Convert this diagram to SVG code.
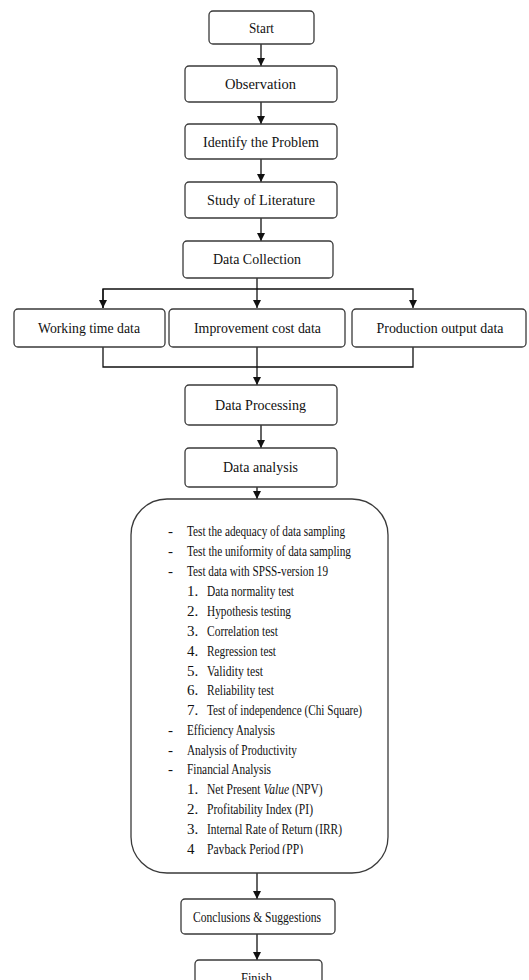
<svg xmlns="http://www.w3.org/2000/svg" width="529" height="980" viewBox="0 0 529 980">
<style>
.box{fill:#fff;stroke:#3a3a3a;stroke-width:1.3}
.lbl{font-family:"Liberation Serif",serif;font-size:15px;fill:#111;text-anchor:middle}
.it{font-family:"Liberation Serif",serif;font-size:15px;fill:#111}
.ln{fill:none;stroke:#111;stroke-width:1.3}
</style>
<defs>
<marker id="ah" viewBox="0 0 8 8" refX="8" refY="4" markerWidth="8" markerHeight="8" markerUnits="userSpaceOnUse" orient="auto">
<path d="M0,0 L8,4 L0,8 z" fill="#111"/>
</marker>
<clipPath id="bigclip"><rect x="130" y="499" width="260" height="355"/></clipPath>
</defs>
<rect width="529" height="980" fill="#fff"/>
<g id="connectors">
<line class="ln" x1="261" y1="44" x2="261" y2="66" marker-end="url(#ah)"/>
<line class="ln" x1="261" y1="102" x2="261" y2="124" marker-end="url(#ah)"/>
<line class="ln" x1="261" y1="159" x2="261" y2="182" marker-end="url(#ah)"/>
<line class="ln" x1="261" y1="218" x2="261" y2="241" marker-end="url(#ah)"/>
<line class="ln" x1="257" y1="278" x2="257" y2="289"/>
<polyline class="ln" points="103,308 103,289 413,289 413,308" marker-end="url(#ah)"/>
<line class="ln" x1="103" y1="289" x2="103" y2="308" marker-end="url(#ah)"/>
<line class="ln" x1="257" y1="289" x2="257" y2="308" marker-end="url(#ah)"/>
<polyline class="ln" points="103,347 103,367 413,367 413,347"/>
<line class="ln" x1="257" y1="347" x2="257" y2="385" marker-end="url(#ah)"/>
<line class="ln" x1="261" y1="425" x2="261" y2="448" marker-end="url(#ah)"/>
<line class="ln" x1="257" y1="487" x2="257" y2="499" marker-end="url(#ah)"/>
<line class="ln" x1="257" y1="873" x2="257" y2="899" marker-end="url(#ah)"/>
<line class="ln" x1="257" y1="934" x2="257" y2="960" marker-end="url(#ah)"/>
</g>
<g id="start"><rect class="box" x="209" y="11" width="105" height="33" rx="4"/><text class="lbl" x="261.5" y="33" textLength="25" lengthAdjust="spacingAndGlyphs">Start</text></g>
<g id="observation"><rect class="box" x="185" y="66" width="152" height="36" rx="4"/><text class="lbl" x="260.5" y="89" textLength="71" lengthAdjust="spacingAndGlyphs">Observation</text></g>
<g id="identify"><rect class="box" x="185" y="124" width="152" height="35" rx="4"/><text class="lbl" x="261" y="147" textLength="116" lengthAdjust="spacingAndGlyphs">Identify the Problem</text></g>
<g id="literature"><rect class="box" x="185" y="182" width="152" height="36" rx="4"/><text class="lbl" x="261" y="205" textLength="108" lengthAdjust="spacingAndGlyphs">Study of Literature</text></g>
<g id="collection"><rect class="box" x="183" y="241" width="150" height="37" rx="4"/><text class="lbl" x="257" y="264" textLength="88" lengthAdjust="spacingAndGlyphs">Data Collection</text></g>
<g id="working"><rect class="box" x="14" y="309" width="151" height="38" rx="4"/><text class="lbl" x="89" y="333" textLength="102" lengthAdjust="spacingAndGlyphs">Working time data</text></g>
<g id="improvement"><rect class="box" x="169" y="309" width="176" height="38" rx="4"/><text class="lbl" x="257.5" y="333" textLength="127" lengthAdjust="spacingAndGlyphs">Improvement cost data</text></g>
<g id="production"><rect class="box" x="352" y="309" width="174" height="38" rx="4"/><text class="lbl" x="440" y="333" textLength="127" lengthAdjust="spacingAndGlyphs">Production output data</text></g>
<g id="processing"><rect class="box" x="185" y="385" width="152" height="40" rx="4"/><text class="lbl" x="260.5" y="410" textLength="91" lengthAdjust="spacingAndGlyphs">Data Processing</text></g>
<g id="analysis"><rect class="box" x="185" y="448" width="152" height="39" rx="4"/><text class="lbl" x="260.5" y="472" textLength="75" lengthAdjust="spacingAndGlyphs">Data analysis</text></g>
<g id="methods">
<rect class="box" x="131" y="499" width="257" height="374" rx="36"/>
<g clip-path="url(#bigclip)">
<text class="it" x="168" y="536">-</text><text class="it" x="187" y="536" textLength="158" lengthAdjust="spacingAndGlyphs">Test the adequacy of data sampling</text>
<text class="it" x="168" y="556">-</text><text class="it" x="187" y="556" textLength="164" lengthAdjust="spacingAndGlyphs">Test the uniformity of data sampling</text>
<text class="it" x="168" y="576">-</text><text class="it" x="187" y="576" textLength="141" lengthAdjust="spacingAndGlyphs">Test data with SPSS-version 19</text>
<text class="it" x="187" y="596">1.</text><text class="it" x="207" y="596" textLength="87" lengthAdjust="spacingAndGlyphs">Data normality test</text>
<text class="it" x="187" y="616">2.</text><text class="it" x="207" y="616" textLength="84" lengthAdjust="spacingAndGlyphs">Hypothesis testing</text>
<text class="it" x="187" y="636">3.</text><text class="it" x="207" y="636" textLength="71" lengthAdjust="spacingAndGlyphs">Correlation test</text>
<text class="it" x="187" y="656">4.</text><text class="it" x="207" y="656" textLength="69" lengthAdjust="spacingAndGlyphs">Regression test</text>
<text class="it" x="187" y="676">5.</text><text class="it" x="207" y="676" textLength="56" lengthAdjust="spacingAndGlyphs">Validity test</text>
<text class="it" x="187" y="695">6.</text><text class="it" x="207" y="695" textLength="67" lengthAdjust="spacingAndGlyphs">Reliability test</text>
<text class="it" x="187" y="715">7.</text><text class="it" x="207" y="715" textLength="155" lengthAdjust="spacingAndGlyphs">Test of independence (Chi Square)</text>
<text class="it" x="168" y="735">-</text><text class="it" x="187" y="735" textLength="88" lengthAdjust="spacingAndGlyphs">Efficiency Analysis</text>
<text class="it" x="168" y="755">-</text><text class="it" x="187" y="755" textLength="110" lengthAdjust="spacingAndGlyphs">Analysis of Productivity</text>
<text class="it" x="168" y="774">-</text><text class="it" x="187" y="774" textLength="84" lengthAdjust="spacingAndGlyphs">Financial Analysis</text>
<text class="it" x="187" y="794">1.</text><text class="it" transform="translate(207,794) scale(0.77,1)" x="0" y="0">Net Present <tspan font-style="italic">Value</tspan> (NPV)</text>
<text class="it" x="187" y="814">2.</text><text class="it" x="207" y="814" textLength="106" lengthAdjust="spacingAndGlyphs">Profitability Index (PI)</text>
<text class="it" x="187" y="834">3.</text><text class="it" x="207" y="834" textLength="135" lengthAdjust="spacingAndGlyphs">Internal Rate of Return (IRR)</text>
<text class="it" x="187" y="854">4</text><text class="it" x="207" y="854" textLength="96" lengthAdjust="spacingAndGlyphs">Payback Period (PP)</text>
</g>
</g>
<g id="conclusions"><rect class="box" x="181" y="899" width="154" height="35" rx="4"/><text class="lbl" x="257" y="922" textLength="128" lengthAdjust="spacingAndGlyphs">Conclusions &amp; Suggestions</text></g>
<g id="finish"><rect class="box" x="195" y="960" width="127" height="36" rx="4"/><text class="lbl" x="256.5" y="983" textLength="31" lengthAdjust="spacingAndGlyphs">Finish</text></g>
</svg>
